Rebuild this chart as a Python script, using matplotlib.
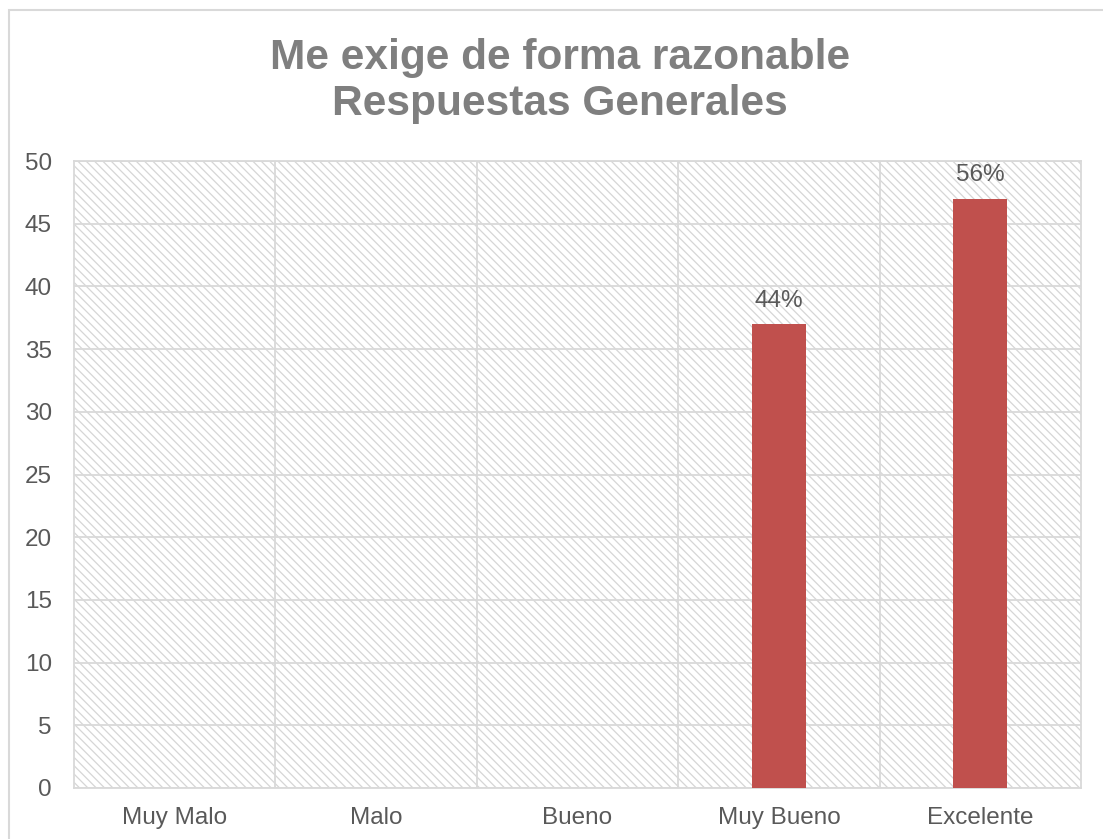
import matplotlib
matplotlib.use("Agg")
from matplotlib import pyplot as plt
from matplotlib.patches import Rectangle
import numpy as np

categories = ['Muy Malo', 'Malo', 'Bueno', 'Muy Bueno', 'Excelente']
counts = [0, 0, 0, 37, 47]
bar_labels = ['', '', '', '44%', '56%']

plt.rcParams['font.family'] = ['Liberation Sans', 'DejaVu Sans']
plt.rcParams['hatch.linewidth'] = 0.9

text_grey = '#595959'
grid_grey = '#d9d9d9'
bar_red = '#c0504d'

fig = plt.figure(figsize=(11.03, 8.39), dpi=100)
ax = fig.add_axes([74 / 1103, 1 - 788 / 839, (1081 - 74) / 1103, (788 - 161) / 839])

# hatched plot area background
ax.add_patch(Rectangle((0, 0), 1, 1, transform=ax.transAxes, facecolor='white',
                       edgecolor='#d6d6d6', hatch='\\\\\\\\', lw=0, zorder=0))

x = np.arange(len(categories))
ax.bar(x, counts, width=0.27, color=bar_red, zorder=3)

for xi, val, lab in zip(x, counts, bar_labels):
    if lab:
        ax.annotate(lab, (xi, val), xytext=(0, 9), textcoords='offset points',
                    ha='center', va='bottom', fontsize=17.5, color=text_grey, zorder=4)

ax.set_xlim(-0.5, len(categories) - 0.5)
ax.set_ylim(0, 50)
ax.set_yticks(range(0, 51, 5))
ax.set_xticks(x, labels=categories)
ax.set_xticks(np.arange(0.5, len(categories) - 0.5, 1), minor=True)

ax.grid(True, axis='y', which='major', color=grid_grey, lw=1.3, zorder=1)
ax.grid(True, axis='x', which='minor', color=grid_grey, lw=1.3, zorder=1)
ax.set_axisbelow(True)

ax.tick_params(axis='both', which='both', length=0, labelsize=17.5, labelcolor=text_grey)
ax.tick_params(axis='y', pad=16)
ax.tick_params(axis='x', pad=14)
for s in ax.spines.values():
    s.set_color(grid_grey)
    s.set_linewidth(1.3)

fig.text(560 / 1103, 1 - 81 / 839, 'Me exige de forma razonable\nRespuestas Generales',
         ha='center', va='center', fontsize=30.5, fontweight='bold', color='#7f7f7f',
         linespacing=1.18)

# outer chart border
fig.patches.append(Rectangle((9 / 1103, -0.05), 1.1, 1 - 10 / 839 + 0.05,
                             transform=fig.transFigure, fill=False,
                             edgecolor=grid_grey, lw=1.5))

fig.savefig('out.png', dpi=100)
